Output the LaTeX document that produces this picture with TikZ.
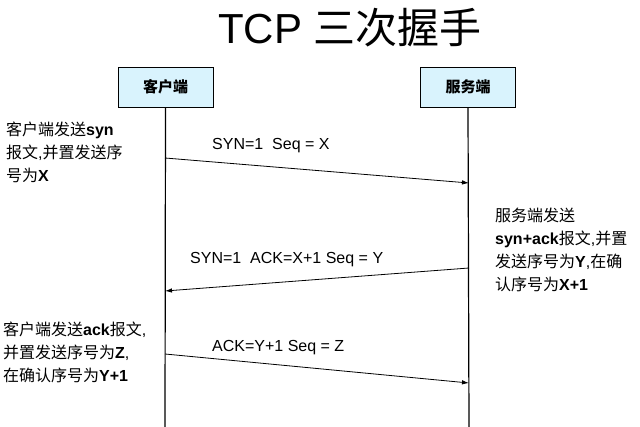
\documentclass[tikz,border=0pt]{standalone}
\usepackage{fontspec}
\setmainfont{Liberation Sans}
\newfontfamily\cjk{Noto Sans CJK SC}
\usetikzlibrary{arrows.meta}
\begin{document}
\begin{tikzpicture}[x=1pt,y=-1pt,
  hdr/.style={draw=black,fill=cyan!15,minimum width=95pt,minimum height=40pt,inner sep=0pt,font=\cjk\bfseries\fontsize{15}{17}\selectfont},
  msg/.style={-{Latex[length=7pt,width=4.5pt]},line width=0.8pt},
  lbl/.style={font=\fontsize{16}{18}\selectfont,inner sep=0pt},
  note/.style={font=\fontsize{16}{23}\selectfont,align=left,inner sep=0pt,anchor=north west}]
\useasboundingbox (0,0) rectangle (640,427);
\node[font=\fontsize{42}{46}\selectfont] (title) at (350,28) {TCP {\cjk 三次握手}};
\node[hdr] (c) at (165.5,87) {客户端};
\node[hdr] (s) at (468,87) {服务端};
\coordinate (cb) at (165,427);
\coordinate (sb) at (469,427);
\draw[line width=1.2pt] (c.south) -- (cb);
\draw[line width=1.2pt] (s.south) -- (sb);
\coordinate (a1) at (165,158); \coordinate (b1) at (469,183);
\coordinate (a2) at (469,268); \coordinate (b2) at (165,291);
\coordinate (a3) at (165,354); \coordinate (b3) at (469,383);
\draw[msg] (a1) -- (b1);
\draw[msg] (a2) -- (b2);
\draw[msg] (a3) -- (b3);
\node[lbl,anchor=west] (l1) at (212,146) {SYN=1\ \ Seq = X};
\node[lbl,anchor=west] (l2) at (190,260) {SYN=1\ \ ACK=X+1 Seq = Y};
\node[lbl,anchor=west] (l3) at (212,348) {ACK=Y+1 Seq = Z};
\node[note] (n1) at (6,122) {{\cjk 客户端发送}\textbf{syn}\\{\cjk 报文},{\cjk 并置发送序}\\{\cjk 号为}\textbf{X}};
\node[note] (n2) at (495,208) {{\cjk 服务端发送}\\\textbf{syn+ack}{\cjk 报文},{\cjk 并置}\\{\cjk 发送序号为}\textbf{Y},{\cjk 在确}\\{\cjk 认序号为}\textbf{X+1}};
\node[note] (n3) at (3,322) {{\cjk 客户端发送}\textbf{ack}{\cjk 报文},\\{\cjk 并置发送序号为}\textbf{Z},\\{\cjk 在确认序号为}\textbf{Y+1}};
\end{tikzpicture}
\end{document}
